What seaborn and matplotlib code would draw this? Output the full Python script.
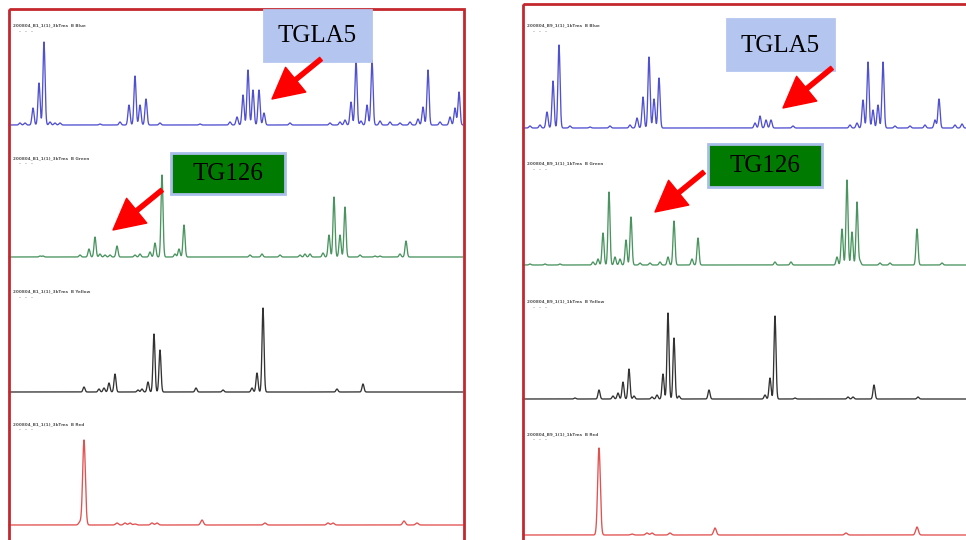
import numpy as np
import pandas as pd
import matplotlib
matplotlib.use("Agg")
import matplotlib.pyplot as plt
from matplotlib.patches import Rectangle, FancyArrowPatch
import seaborn as sns

# ---- electropherogram peaks: scan position from panel's left edge, intensity ----
# left sample
left_blue_pos = [11, 16, 24, 30, 35, 41, 46, 51, 91, 111, 120, 126, 131, 137, 151, 191, 221, 228,
                 234, 239, 244, 250, 255, 281, 321, 331, 336, 342, 347, 352, 358, 363, 371, 381,
                 391, 401, 409, 414, 419, 431, 441, 446, 450]
left_blue_int = [2, 2, 17, 42, 83, 3, 2, 2, 1, 3, 20, 49, 20, 26, 2, 1, 3, 8,
                 30, 55, 35, 35, 12, 2, 2, 3, 5, 23, 65, 4, 20, 65, 4, 3,
                 2, 3, 6, 18, 55, 3, 8, 17, 33]

left_green_pos = [31, 34, 71, 80, 86, 91, 96, 101, 108, 126, 131, 141, 146, 153, 166, 170, 175,
                  241, 253, 271, 291, 296, 301, 314, 320, 325, 331, 336, 351, 366, 371, 391, 397]
left_green_int = [1, 1, 2, 8, 20, 3, 2, 2, 11, 2, 3, 5, 14, 82, 3, 8, 32,
                  2, 3, 2, 2, 3, 3, 4, 22, 60, 22, 50, 2, 1, 1, 3, 16]

left_black_pos = [75, 90, 95, 100, 106, 129, 133, 139, 145, 151, 187, 214, 243, 248, 254, 328, 354]
left_black_int = [5, 3, 4, 9, 18, 2, 3, 10, 58, 42, 4, 2, 4, 19, 84, 3, 8]

left_red_pos = [71, 75, 108, 116, 121, 126, 143, 148, 193, 256, 319, 324, 395, 408]
left_red_int = [3, 85, 2, 2, 2, 1, 2, 2, 5, 2, 2, 2, 4, 2]

# right sample
right_blue_pos = [7, 17, 24, 30, 36, 47, 67, 87, 107, 114, 120, 126, 131, 136, 232, 237, 243, 248,
                  270, 327, 334, 340, 345, 350, 355, 360, 372, 387, 402, 412, 416, 432, 439]
right_blue_int = [2, 3, 16, 47, 83, 2, 1, 2, 3, 10, 31, 71, 29, 50, 5, 12, 8, 8,
                  2, 3, 5, 28, 66, 18, 23, 66, 2, 2, 3, 8, 29, 3, 4]

right_green_pos = [7, 22, 37, 70, 75, 80, 86, 92, 97, 103, 108, 117, 127, 137, 145, 151, 169, 175,
                   252, 268, 314, 319, 324, 329, 334, 337, 357, 367, 394, 419]
right_green_int = [1, 1, 1, 3, 6, 32, 73, 8, 6, 25, 48, 2, 2, 3, 8, 44, 6, 27,
                   3, 3, 8, 36, 85, 33, 63, 4, 2, 2, 36, 2]

right_black_pos = [52, 76, 90, 95, 100, 106, 111, 129, 134, 140, 145, 151, 156, 186, 242, 247, 252,
                   272, 325, 330, 351, 395]
right_black_int = [1, 9, 3, 6, 17, 30, 3, 2, 4, 25, 86, 61, 3, 9, 4, 21, 83,
                   1, 2, 2, 14, 2]

right_red_pos = [76, 109, 124, 129, 147, 192, 323, 394]
right_red_int = [87, 1, 2, 2, 2, 7, 2, 8]

# run labels printed in each lane
left_run_labels = ["200804_B1_1(1)_3kTms  B Blue", "200804_B1_1(1)_3kTms  B Green",
                   "200804_B1_1(1)_3kTms  B Yellow", "200804_B1_1(1)_3kTms  B Red"]
right_run_labels = ["200804_B9_1(1)_1kTms  B Blue", "200804_B9_1(1)_1kTms  B Green",
                    "200804_B9_1(1)_1kTms  B Yellow", "200804_B9_1(1)_1kTms  B Red"]

marker_names = ["TGLA5", "TG126"]

# ---- drawing ----
sns.set_theme(style="white")
plt.rcParams["font.family"] = ["Liberation Serif", "DejaVu Serif"]

fig = plt.figure(figsize=(9.66, 5.4), dpi=100)
fig.patch.set_facecolor("white")
ax = fig.add_axes([0, 0, 1, 1])

dye_colors = ["#5050d2", "#4a9460", "#333333", "#e25050"]
dye_sigma = [1.05, 1.0, 1.0, 1.35]


def build_trace(pos, inten, length, sigma):
    x = np.linspace(0, length, int(length * 5) + 1)
    y = np.zeros_like(x)
    for p, h in zip(pos, inten):
        y += h * np.exp(-0.5 * ((x - p) / sigma) ** 2)
    return x, y


panels = [
    dict(x0=9, top=9, width=455, baselines=[125, 257, 392, 525], label_y=[25, 158, 291, 424],
         traces=[(left_blue_pos, left_blue_int), (left_green_pos, left_green_int),
                 (left_black_pos, left_black_int), (left_red_pos, left_red_int)],
         run_labels=left_run_labels),
    dict(x0=523, top=4, width=445, baselines=[128, 265, 399, 535], label_y=[25, 163, 301, 434],
         traces=[(right_blue_pos, right_blue_int), (right_green_pos, right_green_int),
                 (right_black_pos, right_black_int), (right_red_pos, right_red_int)],
         run_labels=right_run_labels),
]

for pnl in panels:
    ax.add_patch(Rectangle((pnl["x0"], pnl["top"]), pnl["width"], 600, fill=False,
                           edgecolor="#c4282e", lw=2.0, zorder=5))
    for i, (pos, inten) in enumerate(pnl["traces"]):
        x, y = build_trace(pos, inten, pnl["width"] - 1, dye_sigma[i])
        df = pd.DataFrame({"scan": pnl["x0"] + x, "signal": pnl["baselines"][i] - y})
        sns.lineplot(data=df, x="scan", y="signal", ax=ax, color=dye_colors[i], lw=0.95,
                     estimator=None, sort=False, legend=False)
        ax.text(pnl["x0"] + 4, pnl["label_y"][i], pnl["run_labels"][i], fontsize=3.0,
                family="DejaVu Sans Condensed", fontweight="bold", color="#555555",
                va="center", ha="left")
        ax.text(pnl["x0"] + 10, pnl["label_y"][i] + 5, ".  .  .", fontsize=4.5,
                family="DejaVu Sans", color="#333333", va="center", ha="left")

ax.set_xlim(0, 966)
ax.set_ylim(540, 0)
ax.axis("off")

# marker callouts: (box x, box y, box w, box h, face, edge, arrow tail, arrow tip)
callouts = [
    (264, 10, 107, 51, "#b4c5f0", "#b4c5f0", (321, 59), (272, 99), marker_names[0]),
    (171, 153, 114, 41, "#007a00", "#a9bfea", (162, 190), (113, 230), marker_names[1]),
    (727, 19, 107, 51, "#b4c5f0", "#b4c5f0", (832, 68), (783, 108), marker_names[0]),
    (708, 144, 114, 43, "#007a00", "#a9bfea", (704, 172), (655, 212), marker_names[1]),
]
for bx, by, bw, bh, face, edge, tail, tip, name in callouts:
    ax.add_patch(Rectangle((bx, by), bw, bh, facecolor=face, edgecolor=edge, lw=2, zorder=6))
    ax.text(bx + bw / 2, by + bh / 2 + 1, name, fontsize=18, color="black",
            ha="center", va="center", zorder=7)
    ax.add_patch(FancyArrowPatch(tail, tip,
                                 arrowstyle="simple,head_length=2.2,head_width=2.3,tail_width=0.3",
                                 mutation_scale=10, color="#ff0000", shrinkA=0, shrinkB=0,
                                 zorder=7))

fig.savefig("out.png", dpi=100, facecolor="white")
